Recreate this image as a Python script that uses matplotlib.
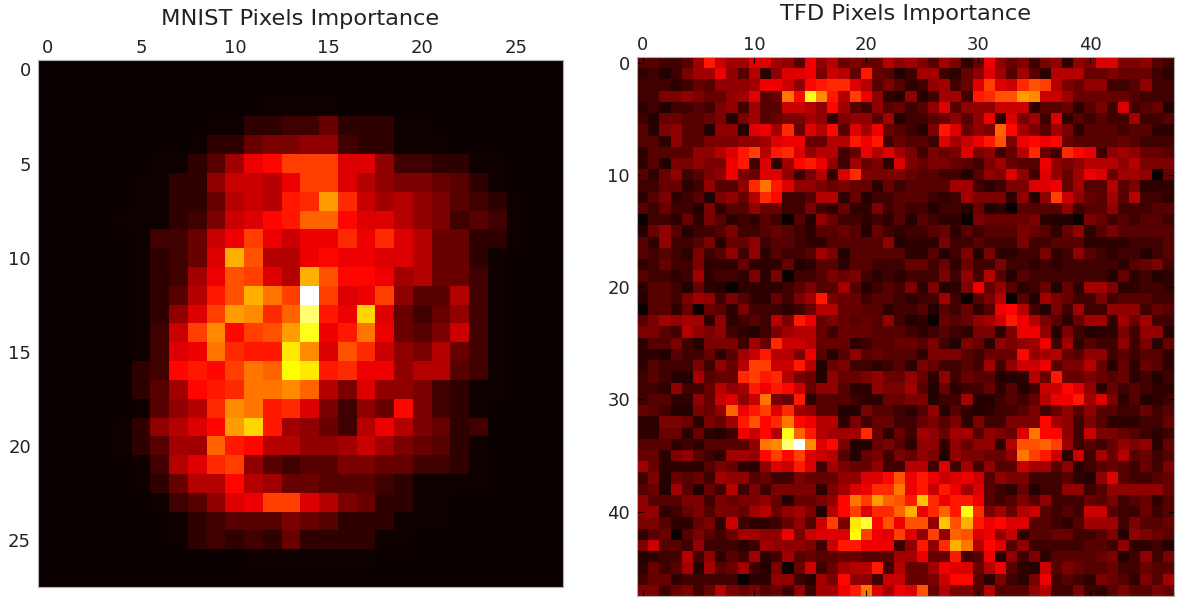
import matplotlib
matplotlib.use("Agg")
import numpy as np
import matplotlib.pyplot as plt

# pixel importance, one char per cell, base 36 (0 to z)
mnist_rows = [
    "0000000000000000000000000000",
    "0000000000000000000000000000",
    "0000000000001111000000000000",
    "0000000001122335222110000000",
    "0000000012256677322111000000",
    "0000001124 8cdgggbb7332211000",
    "0000011227aa9cggb97665421000",
    "00000112259a9eflfa8976432100",
    "00001112 36abdeiidbb97634 3100",
    "000001335acgcaccfcfb95522100",
    "00000 1235bmh99cdccbb95521000",
    "000001238chgb9mhddc895531000",
    "000001249ehmjgzgbcg744931000",
    "00000127bglkfiuecob535731000",
    "0000013agkdghlrcejc546a31000",
    "0000013bcjfeepkbhfa769531000",
    "0000023dedgjiqpefcc799431000",
    "00000248defjjki96b7763211000",
    "000001479fkjefb6375d63210000",
    "00001279bdloe87539c965230000",
    "000012488ied99778a8654210000",
    "00000139bfg74344665533210000",
    "000001259 9d98554443211110000",
    "0000001347bcggb9652211000000",
    "0000000123444654222111000000",
    "0000000123232522221100000000",
    "0000000000011111110000000000",
    "0000000000000000000000000000",
]

tfd_rows = [
    "443348ea88bb874c79565597 86486 25c75 63672 76bb6 6743",
    "2313688c74927bbc6a95e541 38832 57b84 84299 95565 5532",
    "33323 54777 8cca7 deffb 9464 23783 5bgba fhg96 57733 4733",
    "33667 65578 b45jd rke9g c721 71388 3efhh lkaa8 55555 4333",
    "23133 43673 844aa 97d84 3745 347b4 777aa a2445 2463b 3451",
    "31554 45616 84566 87267 7481 33457 47c2b 683b2 43433 8334",
    "41674 41771 bc8f5 b9d4b 8c54 316eb 576id 86486 24443 4422",
    "44274 46667 78bcc 5599e ce35 443b8 aceh6 cdcd5 44445 4333",
    "24444 779be g9efb 79935 c9b8 63656 b6735 9f53f dc378 7554",
    "24166 766ce 3b28d ec738 562b 65665 43685 44c76 79997 9666",
    "42573 467c6 5bb73 692bf 6666 54433 1476b 73b75 8cb58 8705",
    "33552 37447 fjeb7 76565 5253 44448 83236 6bbc5 84494 6222",
    "24623 41675 9fd33 49925 1334 44323 86662 717ga 75484 9332",
    "43533 16244 75533 63252 2634 33133 15120 44447 34473 3344",
    "03325 26423 24304 17533 2324 14322 06555 56211 06534 3443",
    "15741 33463 34543 24454 1532 33452 43444 65425 72464 4444",
    "42733 46155 73443 22444 4471 22263 34333 63344 42222 3334",
    "43432 63473 72433 48614 4444 22413 61622 33623 74323 3134",
    "23533 62225 22251 24424 4333 55352 53363 32323 33332 4563",
    "43323 82332 62603 34656 3232 33363 73941 43333 33315 2312",
    "24431 52102 22234 64484 1343 62612 6c574 23515 28862 2332",
    "14436 87364 22536 8e655 3443 23383 04690 41865 33634 4433",
    "04425 05426 33323 59955 4423 34143 524cd 93163 83377 7354",
    "46878 82723 4396e c5654 5473 12054 578ae c9642 58828 5833",
    "66439 76732 13689 95355 5444 32343 26626 cc716 31226 3771",
    "24463 16663 85faa 95552 3445 54631 65276 78c38 24337 3625",
    "22143 35248 ae996 c4147 4544 42666 43555 d7895 47734 3442",
    "24333 63759 ggaae 91563 3234 26533 43837 aac46 69515 2542",
    "34311 8455f gef96 51755 6755 75273 54411 295e5 56545 2313",
    "33273 35978 eceda 57742 2766 84152 33524 13aad b7253 4322",
    "34422 75ab7 aj65e 24443 2255 66133 81134 359cc e8b62 4123",
    "54311 657ic egbf8 74411 6443 24714 21233 46357 47443 3534",
    "22665 2658e hdfjd c9926 3553 35646 26336 66d87 36422 2335",
    "22552 5213c ad9ri e9888 f525 38758 84765 bjdd7 3a665 4323",
    "44423 24444 7jkuz kbd61 1564 27727 57729 hhig8 34357 6725",
    "55267 43288 7dgdg ba941 5636 57617 66557 jgea2 a3859 4534",
    "85222 24652 27bae b3865 5733 993b3 83744 a8847 13454 3536",
    "36154 53877 45336 55577 bbdh cecab ca476 63334 217b4 3345",
    "45184 15393 63666 6268b cffj ceaec 8b432 51337 73477 7775",
    "74446 63656 67515 567dj glih enfce ec434 64733 35463 4524",
    "77235 64665 89578 619dg bffi mcfie rf685 9a434 3aa43 3534",
    "66422 562a3 22357 4ag6p sdhc hh7nh mecdb b4432 48883 6445",
    "24504 64358 877c6 abbbq gcbg b7g7i hbc7a 24455 33461 7654",
    "6a443 73332 38777 63aee ccc3 7e7fm j9db4 73333 34437 2231",
    "12339 37243 82384 54455 4448 8c55e 34c17 36244 44561 3736",
    "25348 18458 31605 a3589 9e39 558cb b59c4 21a46 54453 3544",
    "35523 33330 22773 186d7 73aa 556ad d4263 26c34 32654 2648",
    "66356 35965 64537 388ce jb8c bh596 64944 47933 63246 4465",
]

mnist_ticks = [0, 5, 10, 15, 20, 25]
tfd_ticks = [0, 10, 20, 30, 40]


def decode(rows, faint=1.0):
    vals = np.array([[int(c, 36) for c in r.replace(" ", "")] for r in rows], dtype=float)
    # code 1 can stand for a cell that is only just visible
    vals[vals == 1] = faint
    return vals


W, H = 1177, 598
fig = plt.figure(figsize=(W / 100, H / 100), dpi=100)


def panel(vals, ticks, title, box, title_y):
    x0, x1, y0, y1 = box
    ax = fig.add_axes([x0 / W, 1 - y1 / H, (x1 - x0) / W, (y1 - y0) / H])
    ax.imshow(vals, cmap="hot", vmin=0, vmax=35, aspect="auto", interpolation="nearest")
    ax.set_xticks(ticks)
    ax.set_yticks(ticks)
    ax.xaxis.tick_top()
    ax.tick_params(direction="in", length=4, width=0.8, color="black", top=True, bottom=True,
                   left=True, right=True, labelsize=13, labelcolor="#222222")
    ax.tick_params(axis="x", pad=2)
    ax.tick_params(axis="y", pad=5)
    for s in ax.spines.values():
        s.set_color("#b0b0b0")
    fig.text((x0 + x1) / 2 / W, 1 - title_y / H, title, ha="center", va="center", fontsize=16.2,
             color="#222222")


panel(decode(mnist_rows, faint=0.4), mnist_ticks, "MNIST Pixels Importance", (38, 563, 60, 587), 19)
panel(decode(tfd_rows, faint=1.5), tfd_ticks, "TFD Pixels Importance", (637, 1174, 57, 596), 14)

fig.savefig("out.png", dpi=100)
